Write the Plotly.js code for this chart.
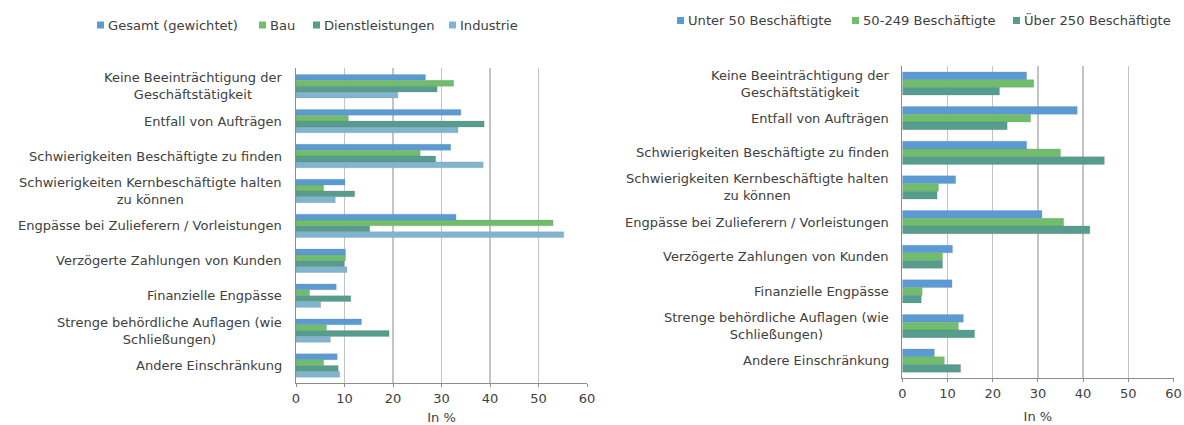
<!DOCTYPE html>
<html><head><meta charset="utf-8">
<script src="https://cdn.plot.ly/plotly-3.0.1.min.js"></script>
<style>html,body{margin:0;padding:0;background:#fff;overflow:hidden}#chart{width:1184px;height:425px}</style>
</head><body><div id="chart"></div>
<script>
var categories = [
  "Keine Beeinträchtigung der<br>Geschäftstätigkeit",
  "Entfall von Aufträgen",
  "Schwierigkeiten Beschäftigte zu finden",
  "Schwierigkeiten Kernbeschäftigte halten<br>zu können",
  "Engpässe bei Zulieferern / Vorleistungen",
  "Verzögerte Zahlungen von Kunden",
  "Finanzielle Engpässe",
  "Strenge behördliche Auflagen (wie<br>Schließungen)",
  "Andere Einschränkung"
];
var catKeys = ["k1","k2","k3","k4","k5","k6","k7","k8","k9"];

var sectorNames = ["Gesamt (gewichtet)", "Bau", "Dienstleistungen", "Industrie"];
var gesamt          = [26.7, 34.0, 31.9, 10.1, 33.0, 10.2, 8.3, 13.5, 8.5];
var bau             = [32.5, 10.8, 25.6, 5.7, 53.0, 10.2, 2.8, 6.3, 5.7];
var dienstleistungen= [29.1, 38.8, 28.8, 12.1, 15.2, 9.9, 11.3, 19.2, 8.7];
var industrie       = [21.0, 33.4, 38.6, 8.1, 55.2, 10.5, 5.1, 7.1, 9.0];

var sizeNames = ["Unter 50 Beschäftigte", "50-249 Beschäftigte", "Über 250 Beschäftigte"];
var unter50  = [27.5, 38.7, 27.5, 11.8, 30.9, 11.1, 11.0, 13.5, 7.1];
var mittel   = [29.1, 28.4, 35.0, 8.0, 35.7, 8.9, 4.4, 12.4, 9.3];
var ueber250 = [21.5, 23.2, 44.7, 7.7, 41.5, 8.9, 4.2, 16.0, 12.9];

var xTicks = [0, 10, 20, 30, 40, 50, 60];
var xTitle = "In %";

var colors = ["#5B9BD5", "#70BD6C", "#559D8D", "#80B5CF"];
var fontFam = "DejaVu Sans, sans-serif";
var txtCol = "#404040";
var W = 1184, H = 425;

function bar(name, vals, color, xa, ya) {
  return {type: "bar", orientation: "h", name: name, x: vals, y: catKeys,
    xaxis: xa, yaxis: ya, showlegend: false,
    marker: {color: color, line: {color: "rgba(120,120,120,0.35)", width: 0.6}},
    hoverinfo: "x+name"};
}

var traces = [
  bar(sectorNames[0], gesamt, colors[0], "x", "y"),
  bar(sectorNames[1], bau, colors[1], "x", "y"),
  bar(sectorNames[2], dienstleistungen, colors[2], "x", "y"),
  bar(sectorNames[3], industrie, colors[3], "x", "y"),
  bar(sizeNames[0], unter50, colors[0], "x2", "y2"),
  bar(sizeNames[1], mittel, colors[1], "x2", "y2"),
  bar(sizeNames[2], ueber250, colors[2], "x2", "y2")
];

function xax(domain, anchor) {
  return {domain: domain, anchor: anchor, range: [0, 60], tickvals: xTicks,
    showgrid: true, gridcolor: "#C4C4C4", gridwidth: 1.3, zeroline: false,
    showline: true, linecolor: "#8C8C8C", linewidth: 1,
    ticks: "outside", ticklen: 3, tickcolor: "#8C8C8C",
    tickfont: {family: fontFam, size: 13, color: txtCol},
    title: {text: xTitle, font: {family: fontFam, size: 13, color: txtCol}, standoff: 12},
    automargin: false, fixedrange: true};
}
function yax(domain, anchor) {
  return {domain: domain, anchor: anchor, type: "category", categoryarray: catKeys,
    autorange: "reversed", showticklabels: false, showgrid: false, zeroline: false,
    showline: true, linecolor: "#8C8C8C", linewidth: 1, ticks: "", fixedrange: true};
}

var annotations = [];
var shapes = [];
categories.forEach(function (c, i) {
  annotations.push({xref: "paper", yref: "y", x: 284 / W, y: catKeys[i], text: c,
    showarrow: false, xanchor: "right", yanchor: "middle", align: "center",
    font: {family: fontFam, size: 13, color: txtCol}});
  annotations.push({xref: "paper", yref: "y2", x: 891 / W, y: catKeys[i], text: c,
    showarrow: false, xanchor: "right", yanchor: "middle", align: "center",
    font: {family: fontFam, size: 13, color: txtCol}});
});

// manual legends (square + label), positions in pixels
function legendItem(name, color, sqX, cy) {
  shapes.push({type: "rect", xref: "paper", yref: "paper",
    x0: sqX / W, x1: (sqX + 7) / W, y0: 1 - (cy + 3.5) / H, y1: 1 - (cy - 3.5) / H,
    fillcolor: color, line: {width: 0}});
  annotations.push({xref: "paper", yref: "paper", x: (sqX + 9) / W, y: 1 - cy / H,
    text: name, showarrow: false, xanchor: "left", yanchor: "middle",
    font: {family: fontFam, size: 13.1, color: txtCol}});
}
var leftLegX = [97, 259, 313, 449];
sectorNames.forEach(function (n, i) { legendItem(n, colors[i], leftLegX[i], 25); });
var rightLegX = [677, 852, 1013];
sizeNames.forEach(function (n, i) { legendItem(n, colors[i], rightLegX[i], 20.5); });

var layout = {
  width: W, height: H,
  margin: {l: 0, r: 0, t: 0, b: 0},
  paper_bgcolor: "#fff", plot_bgcolor: "#fff",
  barmode: "group", bargap: 0.33, bargroupgap: 0,
  xaxis: xax([296 / W, 587 / W], "y"),
  yaxis: yax([(H - 383) / H, (H - 68.2) / H], "x"),
  xaxis2: xax([902.3 / W, 1173.5 / W], "y2"),
  yaxis2: yax([(H - 378) / H, (H - 65.5) / H], "x2"),
  annotations: annotations,
  shapes: shapes,
  showlegend: false
};

Plotly.newPlot("chart", traces, layout, {displayModeBar: false, staticPlot: true});
</script></body></html>
